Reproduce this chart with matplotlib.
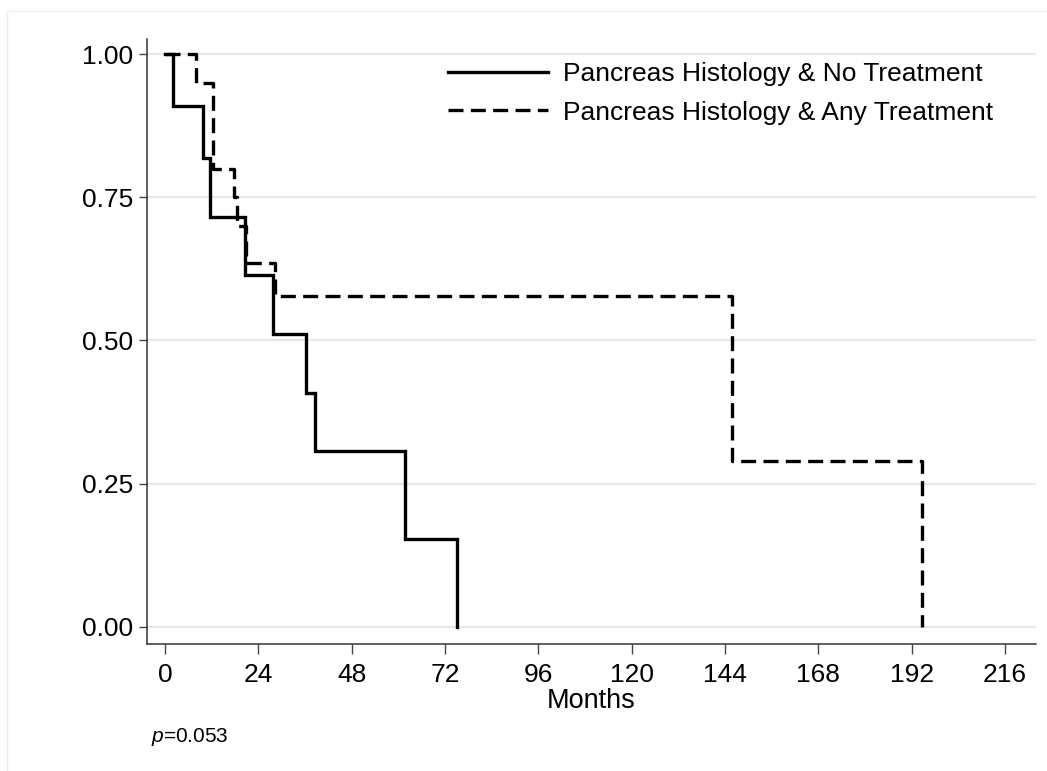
import matplotlib
matplotlib.use("Agg")
import matplotlib.pyplot as plt
from matplotlib.patches import Rectangle

# survival data (months, survival)
no_tx_months = [0, 2.1, 9.9, 11.6, 20.6, 27.9, 36.2, 38.6, 61.7, 75.0]
no_tx_surv = [1.0, 0.909, 0.818, 0.716, 0.614, 0.511, 0.409, 0.307, 0.153, 0.0]
any_tx_months = [0, 8.0, 12.4, 17.8, 18.5, 20.8, 28.3, 145.9, 194.6]
any_tx_surv = [1.0, 0.95, 0.80, 0.75, 0.70, 0.636, 0.578, 0.289, 0.0]
labels = ["Pancreas Histology & No Treatment", "Pancreas Histology & Any Treatment"]
x_ticks = [0, 24, 48, 72, 96, 120, 144, 168, 192, 216]
y_ticks = [0.0, 0.25, 0.50, 0.75, 1.00]
y_ticklabels = ["0.00", "0.25", "0.50", "0.75", "1.00"]
p_text = "$p$=0.053"

W, H = 1047, 771
plt.rcParams['font.family'] = ['Liberation Sans', 'DejaVu Sans']
plt.rcParams['mathtext.fontset'] = 'custom'
plt.rcParams['mathtext.it'] = 'Liberation Sans:italic'
plt.rcParams['mathtext.rm'] = 'Liberation Sans'

fig = plt.figure(figsize=(W / 100, H / 100), dpi=100)
fig.patch.set_facecolor('white')
# faint outer frame
fig.patches.append(Rectangle((7 / W, -0.05), 1.1, 1 - 11 / H + 0.05, transform=fig.transFigure,
                             fill=False, edgecolor='#eeeeee', linewidth=1.0))

ax = fig.add_axes([147 / W, (H - 644) / H, (1036 - 147) / W, (644 - 39) / H])
ax.set_xlim(-4.63, 224.0)
ax.set_ylim(-0.0297, 1.0262)

for yv in y_ticks:
    ax.axhline(yv, color='#e8e8e8', linewidth=1.6, zorder=1)

ax.step(no_tx_months, no_tx_surv, where='post', color='black', linewidth=2.4,
        solid_joinstyle='miter', label=labels[0], zorder=3)
ax.step(any_tx_months, any_tx_surv, where='post', color='black', linewidth=2.4,
        linestyle=(0, (4.5, 2.2)), label=labels[1], zorder=3)

for s in ['top', 'right']:
    ax.spines[s].set_visible(False)
for s in ['left', 'bottom']:
    ax.spines[s].set_color('#333333')
    ax.spines[s].set_linewidth(1.1)

ax.set_xticks(x_ticks)
ax.set_yticks(y_ticks)
ax.set_yticklabels(y_ticklabels)
ax.tick_params(axis='both', direction='out', colors='#444444', labelcolor='black',
               labelsize=19, width=1.0)
ax.tick_params(axis='y', length=6, pad=4)
ax.tick_params(axis='x', length=7.5, pad=6)

ax.set_xlabel("Months", fontsize=19.5)
ax.xaxis.set_label_coords(0.5, -0.072)

ax.legend(loc='upper left', bbox_to_anchor=(448 / W, 1 - 62 / H), bbox_transform=fig.transFigure,
          frameon=False, fontsize=19, handlelength=3.8, handletextpad=0.57,
          labelspacing=0.55, borderpad=0, borderaxespad=0)

fig.text(151 / W, 1 - 737 / H, p_text, fontsize=15, va='center', ha='left')

fig.savefig("out.png", dpi=100)
